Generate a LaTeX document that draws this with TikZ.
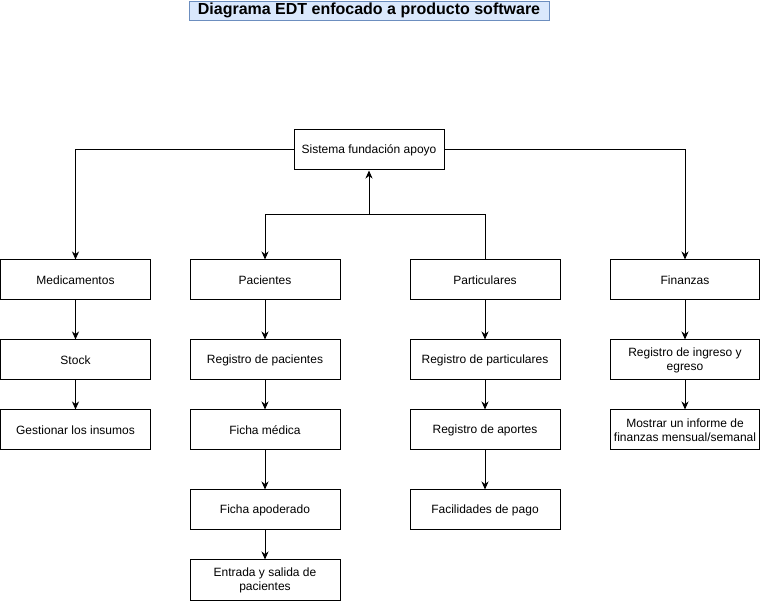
\documentclass[tikz,border=0pt]{standalone}
\usepackage{fontspec}
\setmainfont{Liberation Sans}
\usetikzlibrary{arrows.meta}
\definecolor{tfill}{HTML}{DAE8FC}
\definecolor{tdraw}{HTML}{6C8EBF}
\begin{document}
\begin{tikzpicture}[x=1pt,y=-1pt,
  box/.style={draw=black,line width=1pt,fill=white,minimum width=150pt,minimum height=40pt,inner sep=0pt,align=center,font=\fontsize{12}{14}\selectfont},
  arr/.style={line width=1pt,-{Stealth[length=8pt,width=7pt,inset=2.5pt]}},
  ln/.style={line width=1pt}]
\useasboundingbox (0,0) rectangle (761,601);
\node[draw=tdraw,fill=tfill,line width=0.8pt,minimum width=360pt,minimum height=19pt,inner sep=0pt,font=\fontsize{16}{18}\bfseries\selectfont] (title) at (369,10.5) {Diagrama EDT enfocado a producto software};
\node[box] (top) at (369,150) {Sistema fundación apoyo};
\node[box,minimum width=149.5pt] (med) at (75.5,280) {Medicamentos};
\node[box] (pac) at (265,280) {Pacientes};
\node[box] (par) at (485,280) {Particulares};
\node[box,minimum width=149.5pt] (fin) at (685,280) {Finanzas};
\node[box,minimum width=149.5pt] (stock) at (75.5,360) {Stock};
\node[box] (regpac) at (265,360) {Registro de pacientes};
\node[box] (regpar) at (485,360) {Registro de particulares};
\node[box,minimum width=149.5pt] (regie) at (685,360) {Registro de ingreso y\\egreso};
\node[box,minimum width=149.5pt] (gest) at (75.5,430) {Gestionar los insumos};
\node[box] (ficha) at (265,430) {Ficha médica};
\node[box] (aport) at (485,430) {Registro de aportes};
\node[box,minimum width=149.5pt] (inf) at (685,430) {Mostrar un informe de\\finanzas mensual/semanal};
\node[box] (apod) at (265,510) {Ficha apoderado};
\node[box] (pago) at (485,510) {Facilidades de pago};
\node[box] (entr) at (265,580) {Entrada y salida de\\pacientes};
\coordinate (j1) at (485,215);
\coordinate (j3) at (369,215);
\draw[arr] (top.west) -| (med.north);
\draw[arr] (top.east) -| (fin.north);
\draw[arr] (par.north) -- (j1) -| (pac.north);
\draw[arr] (j3) -- (top.south);
\draw[arr] (med) -- (stock);
\draw[arr] (stock) -- (gest);
\draw[arr] (pac) -- (regpac);
\draw[arr] (regpac) -- (ficha);
\draw[arr] (ficha) -- (apod);
\draw[arr] (apod) -- (entr);
\draw[arr] (par) -- (regpar);
\draw[arr] (regpar) -- (aport);
\draw[arr] (aport) -- (pago);
\draw[arr] (fin) -- (regie);
\draw[arr] (regie) -- (inf);
\end{tikzpicture}
\end{document}
